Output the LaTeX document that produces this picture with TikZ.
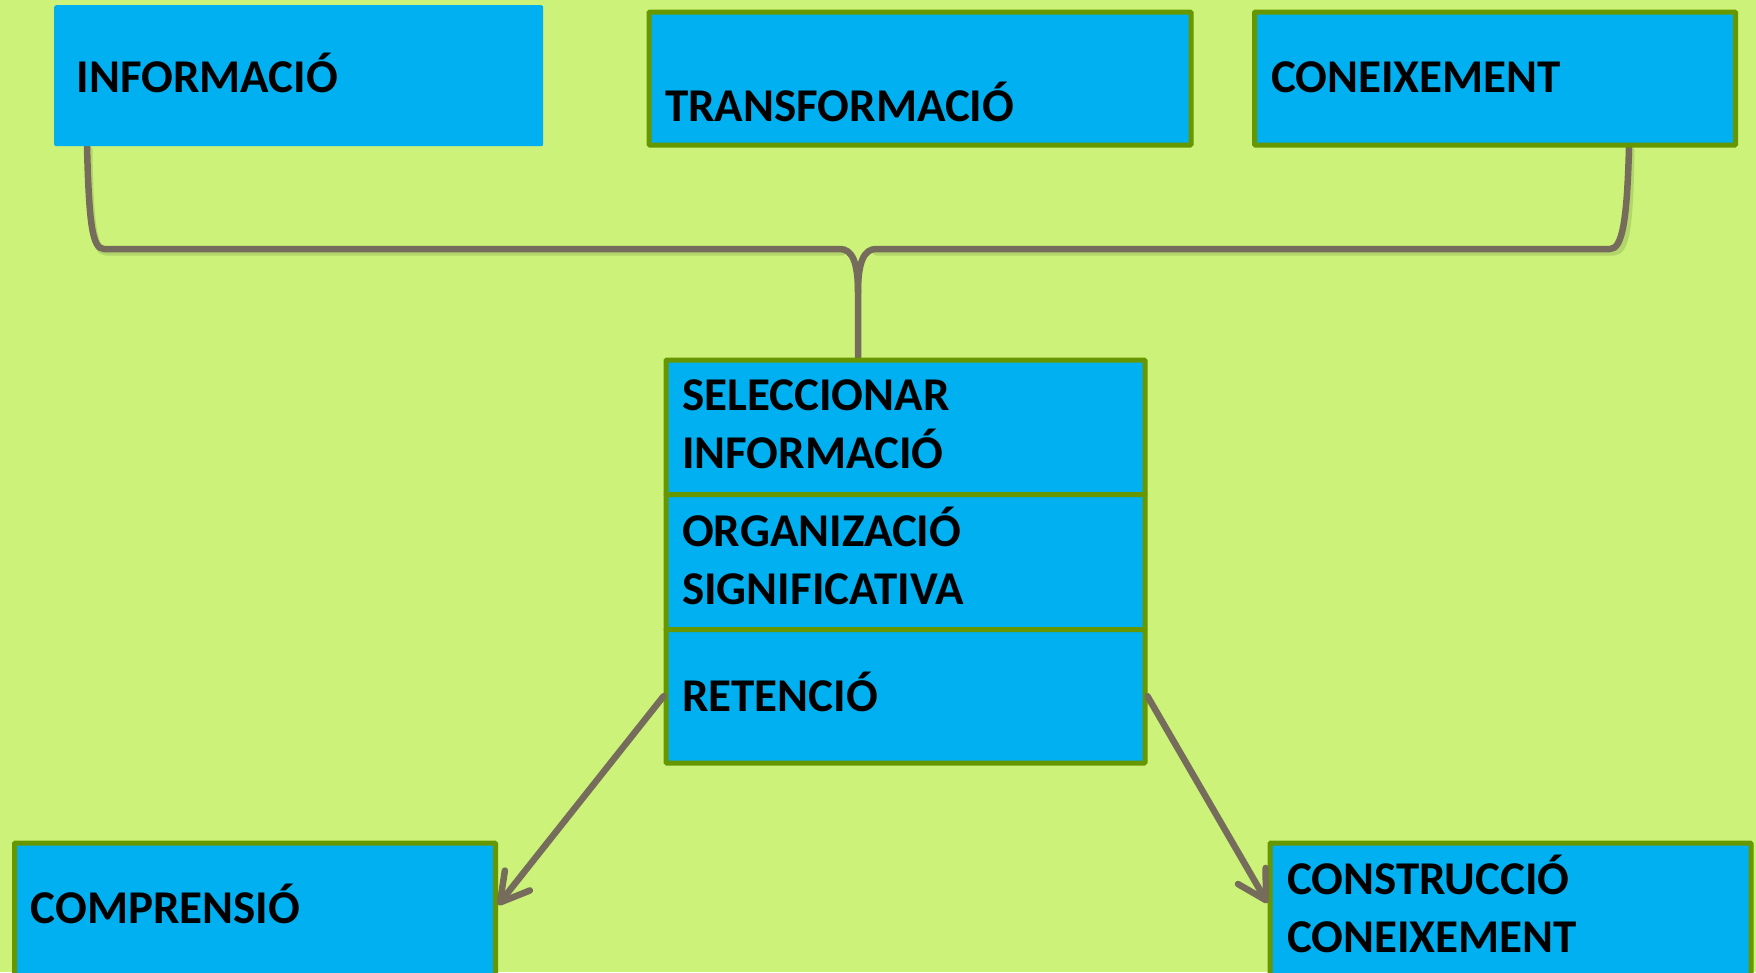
\documentclass[tikz,border=0pt]{standalone}
\usepackage{fontspec}
\setmainfont{Carlito}
\usetikzlibrary{arrows.meta,calc}
\definecolor{bgc}{RGB}{204,242,122}
\definecolor{boxblue}{RGB}{0,176,240}
\definecolor{boxgreen}{RGB}{102,150,0}
\definecolor{conn}{RGB}{118,108,92}
\definecolor{shade}{RGB}{150,180,90}
\pgfdeclarelayer{bglayer}
\pgfdeclarelayer{wirelayer}
\pgfsetlayers{bglayer,wirelayer,main}
\begin{document}
\begin{tikzpicture}[x=1pt,y=-1pt,
  box/.style={draw=boxgreen,line width=5pt,fill=boxblue,rectangle,inner sep=0pt,anchor=north west,rounded corners=1pt},
  plainbox/.style={fill=boxblue,rectangle,inner sep=0pt,anchor=north west,rounded corners=2pt},
  lbl/.style={anchor=base west,inner sep=0pt,font=\fontsize{47}{58}\selectfont\bfseries,align=left},
  wire/.style={draw=conn,line width=6.5pt,line cap=round,line join=round},
  wireshadow/.style={draw=shade,line width=7pt,line cap=round,line join=round,opacity=0.45},
  arr/.style={wire,-{Straight Barb[length=28pt,width=32pt,line cap=round,line join=round]}}
]
\begin{pgfonlayer}{bglayer}
\fill[bgc] (0,0) rectangle (1756,972);
\end{pgfonlayer}
\useasboundingbox (0,0) rectangle (1756,972);

% top boxes
\node[plainbox,minimum width=489pt,minimum height=141pt] (info) at (54,5) {};
\node[box,minimum width=542pt,minimum height=133pt] (trans) at (646.5,9.5) {};
\node[box,minimum width=481pt,minimum height=133pt] (conei) at (1252,9.5) {};
\node[lbl] (infot) at (76.5,92) {INFORMACIÓ};
\node[lbl] (transt) at (665,121) {TRANSFORMACIÓ};
\node[lbl] (coneit) at (1271,92) {CONEIXEMENT};

% middle stack
\node[box,minimum width=479pt,minimum height=134.5pt] (sel) at (663.5,357.5) {};
\node[box,minimum width=479pt,minimum height=135pt] (org) at (663.5,492) {};
\node[box,minimum width=479pt,minimum height=133.5pt] (ret) at (663.5,627) {};
\node[lbl] (selt) at (682,468) {SELECCIONAR\\INFORMACIÓ};
\node[lbl] (orgt) at (682,604) {ORGANIZACIÓ\\SIGNIFICATIVA};
\node[lbl] (rett) at (682,711) {RETENCIÓ};

% bottom boxes
\node[box,minimum width=481pt,minimum height=200pt] (comp) at (12,840.5) {};
\node[box,minimum width=481pt,minimum height=200pt] (cons) at (1267.5,840.5) {};
\node[lbl] (compt) at (30.6,923) {COMPRENSIÓ};
\node[lbl] (const) at (1287,952) {CONSTRUCCIÓ\\CONEIXEMENT};

% brace connector
\coordinate (hub) at (858,292);
\begin{pgfonlayer}{wirelayer}
\draw[wireshadow] ([xshift=35pt,yshift=-3pt]info.south west) .. controls +(1,75) and +(-12,0) .. (106,252) -- (843,252);
\draw[wireshadow] ([xshift=379pt,yshift=-3pt]conei.south west) .. controls +(-1,75) and +(12,0) .. (1614,252) -- (876,252);
\draw[wire] ([xshift=33pt]info.south west) .. controls +(2,75) and +(-12,0) .. (104,249)
  -- (840,249) .. controls (852,249) and (858,262) .. (hub) -- (hub |- sel.north);
\draw[wire] ([xshift=377pt]conei.south west) .. controls +(-2,75) and +(12,0) .. (1610,249)
  -- (876,249) .. controls (864,249) and (858,262) .. (hub);
\end{pgfonlayer}

% arrows
\draw[arr] (ret.west) -- ([yshift=-64.5pt]comp.north east);
\draw[arr] (ret.east) -- ([yshift=-62.5pt]cons.north west);
\end{tikzpicture}
\end{document}
